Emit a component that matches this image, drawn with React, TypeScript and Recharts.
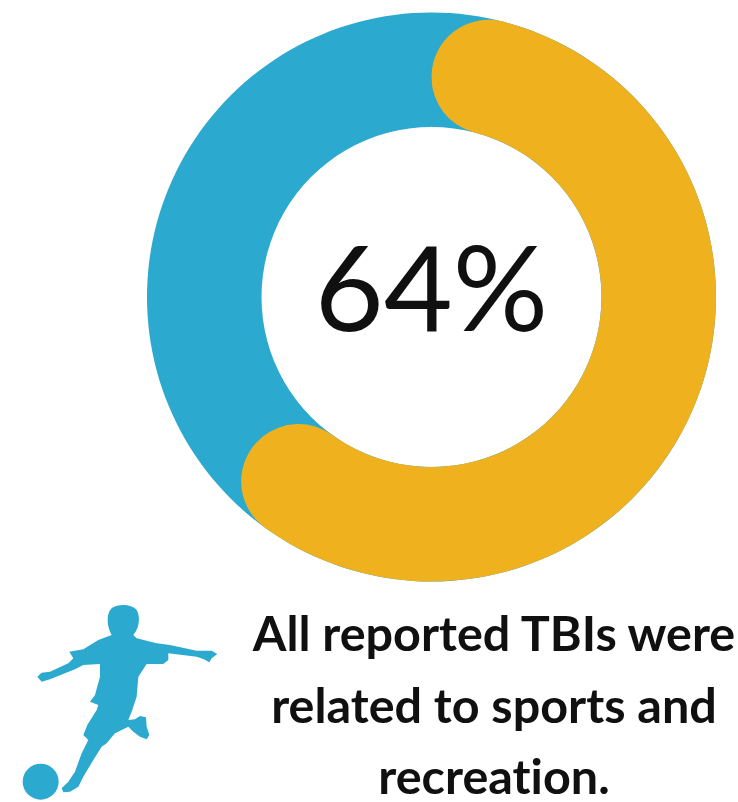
import { PieChart, Pie, Cell } from 'recharts';

const segmentNames = ['Sports and recreation', 'Other'];
const segmentValues = [64, 36];
const wholeRing = [100];
const centerLabel = '64%';
const captionLines = ['All reported TBIs were', 'related to sports and', 'recreation.'];

const BLUE = '#2BA9CF';
const YELLOW = '#EFB11D';
const TEXT = '#101010';

const ringData = segmentNames.map((name, i) => ({ name, value: segmentValues[i] }));
const baseData = wholeRing.map((value) => ({ name: 'All', value }));

// kicking player, outline in a 3x local grid
const PLAYER_PATH =
  'M335 135 C320 110 318 70 335 55 C355 40 395 42 410 60 C422 80 418 115 400 135 L410 145 L470 160 L510 165 ' +
  'L590 182 L635 182 L652 192 L635 205 L628 217 L612 208 L590 200 L505 190 L505 210 L490 222 L440 222 L415 260 ' +
  'L410 320 L395 365 L385 390 L405 388 L420 378 L438 382 L440 410 L448 435 L440 448 L420 440 L400 425 L385 410 ' +
  'L345 430 L320 460 L305 470 L280 510 L250 560 L235 590 L210 605 L190 607 L185 595 L205 575 L225 545 L245 490 ' +
  'L265 450 L250 435 L262 405 L290 360 L295 345 L270 335 L285 315 L300 260 L300 222 L250 225 L225 238 L150 268 ' +
  'L125 275 L112 260 L125 248 L150 245 L205 220 L220 205 L208 185 L250 178 L295 150 Z';

export default function App() {
  return (
    <div style={{ position: 'absolute', left: 0, top: 0, width: 738, height: 802, background: '#fff' }}>
      <PieChart width={738} height={802} margin={{ top: 0, right: 0, bottom: 0, left: 0 }}>
        {/* full blue ring sits under the rounded yellow arc */}
        <Pie
          data={baseData}
          dataKey="value"
          cx={431.5}
          cy={297}
          innerRadius={170}
          outerRadius={284.5}
          startAngle={90}
          endAngle={-270}
          fill={BLUE}
          stroke="none"
          isAnimationActive={false}
        />
        <Pie
          data={ringData}
          dataKey="value"
          cx={431.5}
          cy={297}
          innerRadius={170}
          outerRadius={284.5}
          startAngle={90}
          endAngle={-270}
          cornerRadius={57}
          stroke="none"
          isAnimationActive={false}
        >
          {ringData.map((d, i) => (
            <Cell key={d.name} fill={i === 0 ? YELLOW : 'none'} />
          ))}
        </Pie>
        <text x={431.5} y={331} textAnchor="middle" fontFamily="Lato" fontSize={119} fill={TEXT}>
          {centerLabel}
        </text>
        {captionLines.map((line, i) => (
          <text
            key={line}
            x={494}
            y={651 + i * 71.5}
            textAnchor="middle"
            fontFamily="Lato"
            fontWeight={700}
            fontSize={48.5}
            fill={TEXT}
            style={{ fontVariantLigatures: 'none' }}
          >
            {line}
          </text>
        ))}
        <g transform="translate(0 590) scale(0.3333)" fill={BLUE}>
          <path d={PLAYER_PATH} />
          <circle cx={122} cy={575} r={54} />
        </g>
      </PieChart>
    </div>
  );
}
